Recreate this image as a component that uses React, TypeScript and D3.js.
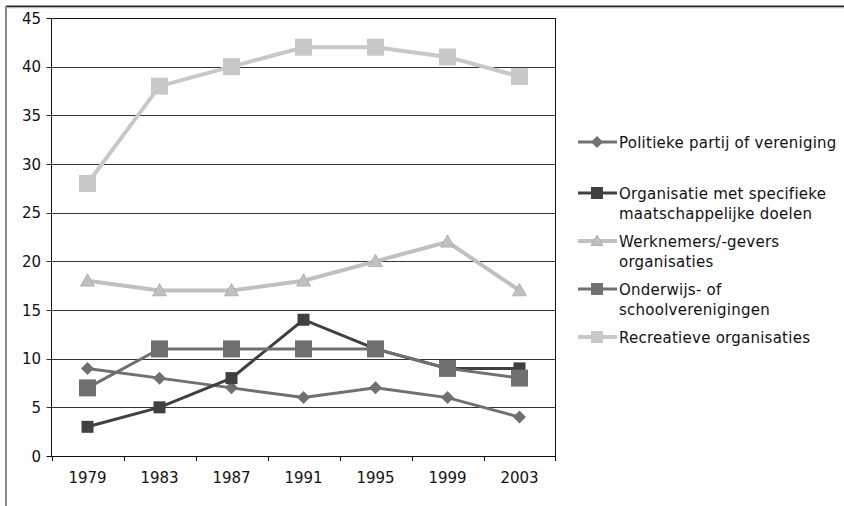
import React from "react";
import * as d3 from "d3";

const years = ["1979", "1983", "1987", "1991", "1995", "1999", "2003"];
const politiek = [9, 8, 7, 6, 7, 6, 4];
const organisatie = [3, 5, 8, 14, 11, 9, 9];
const werknemers = [18, 17, 17, 18, 20, 22, 17];
const onderwijs = [7, 11, 11, 11, 11, 9, 8];
const recreatief = [28, 38, 40, 42, 42, 41, 39];
const yTicks = [0, 5, 10, 15, 20, 25, 30, 35, 40, 45];

type Series = { name: string[]; values: number[]; color: string; width: number; shape: string; size: number };

const series: Series[] = [
  { name: ["Politieke partij of vereniging"], values: politiek, color: "#707070", width: 3, shape: "diamond", size: 13 },
  { name: ["Organisatie met specifieke", "maatschappelijke doelen"], values: organisatie, color: "#404040", width: 3, shape: "square", size: 12 },
  { name: ["Werknemers/-gevers", "organisaties"], values: werknemers, color: "#c0c0c0", width: 4, shape: "triangle", size: 14 },
  { name: ["Onderwijs- of", "schoolverenigingen"], values: onderwijs, color: "#707070", width: 3, shape: "square", size: 17 },
  { name: ["Recreatieve organisaties"], values: recreatief, color: "#c8c8c8", width: 4, shape: "square", size: 17 },
];

const legendY = [142, 193, 241, 289, 337];

function Marker({ x, y, s }: { x: number; y: number; s: Series }) {
  const h = s.size / 2;
  if (s.shape === "square") return <rect x={x - h} y={y - h} width={s.size} height={s.size} fill={s.color} />;
  if (s.shape === "diamond")
    return <path d={`M${x},${y - h}L${x + h},${y}L${x},${y + h}L${x - h},${y}Z`} fill={s.color} />;
  return <path d={`M${x},${y - h}L${x + h},${y + h * 0.75}L${x - h},${y + h * 0.75}Z`} fill={s.color} stroke="#a8a8a8" strokeWidth={0.8} />;
}

export default function App() {
  const W = 844, H = 506;
  const left = 51.5, right = 555.5, top = 18, bottom = 456;
  const x = d3.scaleBand<string>().domain(years).range([left, right]);
  const y = d3.scaleLinear().domain([0, 45]).range([bottom, top]);
  const line = d3.line<number>().x((_, i) => (x(years[i]) as number) + x.bandwidth() / 2).y((d) => y(d));
  const font = "'DejaVu Sans', sans-serif";
  return (
    <svg width={W} height={H} style={{ position: "absolute", left: 0, top: 0 }} fontFamily={font}>
      <rect width={W} height={H} fill="#fff" />
      <line x1={6} x2={W} y1={6.5} y2={6.5} stroke="#222" strokeWidth={2} />
      <line x1={6} x2={W} y1={8} y2={8} stroke="#ddd" strokeWidth={1} />
      <line x1={6} x2={6} y1={6} y2={H} stroke="#888" strokeWidth={2} />
      {yTicks.map((t) => (
        <g key={t}>
          <line x1={left - 5} x2={right} y1={Math.round(y(t)) + 0.5} y2={Math.round(y(t)) + 0.5} stroke={t === 0 || t === 45 ? "#111" : "#333"} strokeWidth={1} />
          <text x={41} y={y(t) + 5.5} textAnchor="end" fontSize={15} fill="#111">{t}</text>
        </g>
      ))}
      <line x1={left} x2={left} y1={top} y2={bottom} stroke="#111" />
      <line x1={right} x2={right} y1={top} y2={bottom} stroke="#111" />
      {years.map((yr) => (
        <g key={yr}>
          <line x1={Math.round(x(yr) as number) + 0.5} x2={Math.round(x(yr) as number) + 0.5} y1={bottom} y2={bottom + 5} stroke="#111" />
          <text x={(x(yr) as number) + x.bandwidth() / 2} y={483} textAnchor="middle" fontSize={15} fill="#111">{yr}</text>
        </g>
      ))}
      <line x1={right} x2={right} y1={bottom} y2={bottom + 5} stroke="#111" />
      {series.map((s, si) => (
        <g key={si}>
          <path d={line(s.values) as string} fill="none" stroke={s.color} strokeWidth={s.width} />
          {s.values.map((v, i) => (
            <Marker key={i} x={(x(years[i]) as number) + x.bandwidth() / 2} y={y(v)} s={s} />
          ))}
        </g>
      ))}
      {series.map((s, si) => (
        <g key={"l" + si}>
          <line x1={578} x2={617} y1={legendY[si]} y2={legendY[si]} stroke={s.color} strokeWidth={s.width} />
          <Marker x={597} y={legendY[si]} s={{ ...s, size: Math.min(s.size, 12) }} />
          {s.name.map((n, k) => (
            <text key={k} x={619} y={legendY[si] + 5.5 + k * 20} fontSize={15} letterSpacing={0.25} fill="#111">{n}</text>
          ))}
        </g>
      ))}
    </svg>
  );
}
